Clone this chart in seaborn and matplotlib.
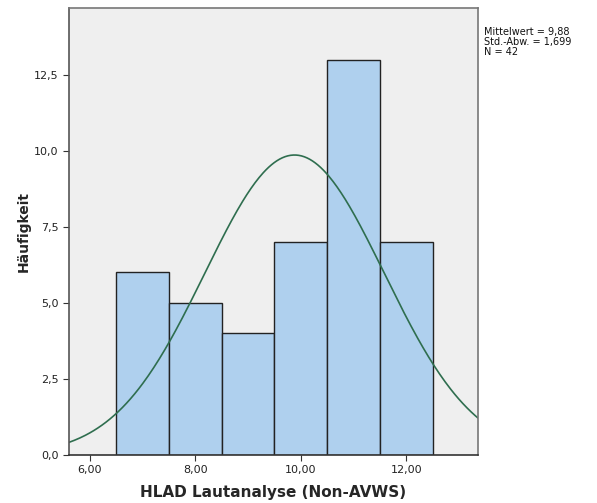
import numpy as np
import pandas as pd
import matplotlib
matplotlib.use("Agg")
import matplotlib.pyplot as plt
import seaborn as sns

bin_centers = [7, 8, 9, 10, 11, 12]
counts = [6, 5, 4, 7, 13, 7]
bin_edges = [6.5, 7.5, 8.5, 9.5, 10.5, 11.5, 12.5]
mean_val = 9.88
sd_val = 1.699
n_val = 42
x_ticks = [6, 8, 10, 12]
x_tick_labels = ["6,00", "8,00", "10,00", "12,00"]
y_ticks = [0, 2.5, 5, 7.5, 10, 12.5]
y_tick_labels = ["0,0", "2,5", "5,0", "7,5", "10,0", "12,5"]

sns.set_style("white")
plt.rcParams['font.family'] = ['DejaVu Sans']

fig = plt.figure(figsize=(5.97, 5.03), dpi=100)
ax = fig.add_axes([0.1156, 0.0954, 0.685, 0.889])
ax.set_facecolor("#EFEFEF")

df = pd.DataFrame({"x": bin_centers, "w": counts})
sns.histplot(data=df, x="x", weights="w", bins=bin_edges, ax=ax,
             color="#AFD0EE", edgecolor="#222222", linewidth=1.0, alpha=1.0)

xmin, xmax = 5.606, 13.356
xs = np.linspace(xmin, xmax, 300)
binw = 1.0
ys = n_val * binw / (sd_val * np.sqrt(2 * np.pi)) * np.exp(-0.5 * ((xs - mean_val) / sd_val) ** 2)
ax.plot(xs, ys, color="#2F6E4F", linewidth=1.2)

ax.set_xlim(xmin, xmax)
ax.set_ylim(0, 14.7)
ax.set_xticks(x_ticks)
ax.set_xticklabels(x_tick_labels)
ax.set_yticks(y_ticks)
ax.set_yticklabels(y_tick_labels)
ax.tick_params(axis="both", which="both", length=4, width=0.8, color="#333333",
               labelsize=8, direction="out", bottom=True, left=True, labelcolor="#222222")
for s in ax.spines.values():
    s.set_color("#777777")
    s.set_linewidth(1.2)
ax.spines["bottom"].set_color("#333333")
ax.spines["left"].set_color("#555555")

ax.set_xlabel("HLAD Lautanalyse (Non-AVWS)", fontsize=11, fontweight="bold", labelpad=7)
ax.set_ylabel("Häufigkeit", fontsize=10, fontweight="bold", labelpad=2)

fig.text(484/597, 1 - 27/503, "Mittelwert = 9,88\nStd.-Abw. = 1,699\nN = 42",
         fontsize=7, va="top", ha="left", linespacing=1.0, color="#111111")

fig.savefig("out.png", dpi=100, facecolor="white")
